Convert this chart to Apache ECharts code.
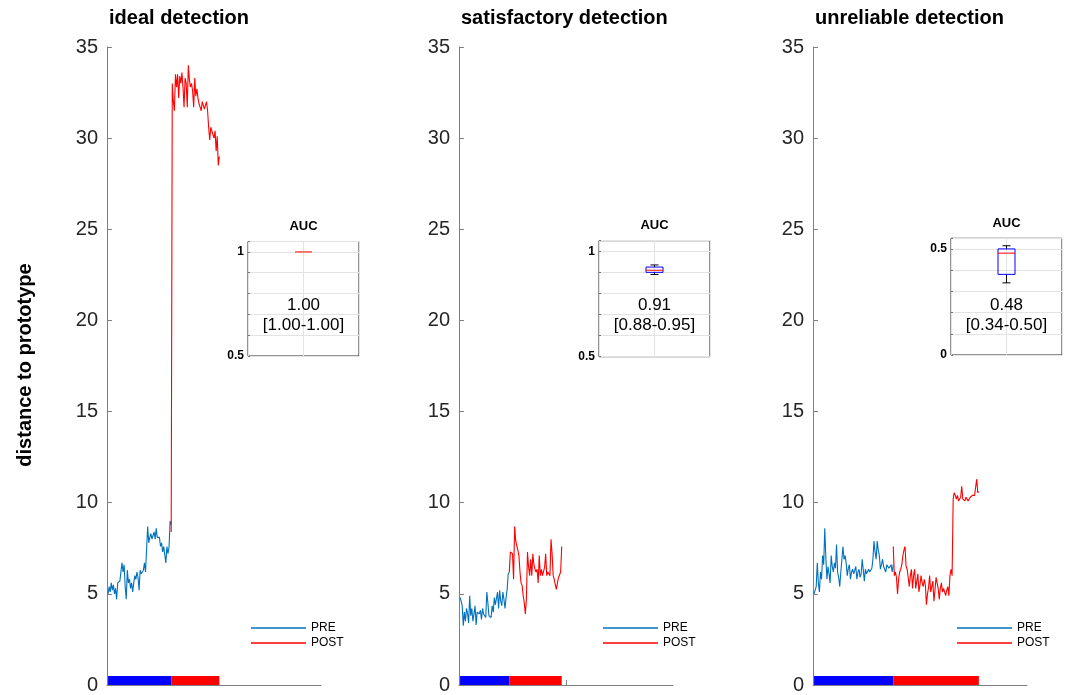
<!DOCTYPE html>
<html>
<head>
<meta charset="utf-8">
<script src="https://cdn.jsdelivr.net/npm/echarts@6/dist/echarts.min.js"></script>
<style>
html,body{margin:0;padding:0;background:#fff;}
#chart{width:1072px;height:695px;}
</style>
</head>
<body>
<div id="chart"></div>
<script>
// ---------------- DATA ----------------
const panelTitles = ['ideal detection', 'satisfactory detection', 'unreliable detection'];
const yAxisName = 'distance to prototype';
const legendNames = ['PRE', 'POST'];
const yTickMax = 35, yTickStep = 5;

const pre1 = [5.0, 5.4, 5.1, 5.6, 5.2, 5.5, 5.0, 5.3, 4.7, 5.6, 5.5, 5.7, 5.6, 6.7, 6.2, 6.6, 5.4, 4.7, 6.3, 5.6,
  5.8, 5.3, 5.6, 5.1, 5.6, 6.0, 5.8, 6.2, 5.9, 5.2, 6.3, 6.1, 6.0, 6.3, 6.7, 6.2, 6.3, 8.7, 7.8, 8.1,
  8.3, 8.0, 8.2, 8.4, 8.0, 8.6, 8.1, 8.0, 8.1, 7.6, 7.8, 7.3, 7.6, 7.5, 6.7, 7.6, 7.2, 7.6, 9.0, 8.8];
const post1 = [8.4, 33.0, 32.0, 31.5, 33.5, 32.8, 33.5, 32.2, 33.4, 33.0, 33.6, 32.8, 31.7, 33.3, 33.0, 31.7,
  34.0, 33.2, 32.8, 33.0, 32.6, 31.7, 33.3, 32.3, 32.7, 32.2, 31.9, 31.7, 31.5, 32.0, 31.8, 31.6, 31.8,
  32.0, 31.5, 30.6, 29.9, 30.6, 30.4, 30.3, 30.0, 30.4, 29.3, 30.1, 28.5, 29.0];

const pre2 = [4.8, 4.6, 4.35, 3.25, 4.0, 3.5, 4.2, 3.9, 3.4, 4.9, 3.8, 4.2, 3.5, 3.9, 4.35, 3.3, 4.0, 3.9, 3.9,
  4.1, 3.6, 4.2, 3.9, 3.9, 3.7, 5.1, 4.5, 3.8, 3.7, 3.7, 4.35, 4.0, 4.8, 4.4, 4.4, 5.1, 4.2, 5.2, 4.6, 4.35,
  5.1, 4.7, 4.2, 4.8, 5.25, 6.1, 6.2];
const post2 = [6.2, 7.3, 7.35, 7.2, 5.8, 8.7, 7.9, 8.0, 7.4, 7.1, 6.2, 5.6, 5.45, 4.9, 4.5, 3.9, 4.7, 7.3, 6.5,
  6.0, 6.9, 6.0, 7.2, 6.6, 6.35, 6.2, 6.35, 5.6, 7.1, 6.0, 6.35, 6.0, 5.9, 6.45, 7.2, 6.0, 6.2, 6.1, 6.0,
  8.0, 7.2, 6.0, 5.8, 5.5, 5.25, 5.6, 5.9, 6.0, 6.2, 7.6];

const pre3 = [5.0, 5.2, 5.4, 6.7, 5.6, 5.1, 6.2, 5.8, 7.1, 6.6, 8.6, 7.0, 5.8, 6.5, 6.1, 5.6, 7.1, 6.5, 6.2,
  6.7, 6.4, 7.7, 6.2, 5.9, 5.4, 6.2, 6.9, 7.6, 6.9, 7.1, 6.7, 6.0, 6.4, 6.6, 5.8, 6.2, 6.35, 6.1, 6.0, 6.5,
  5.8, 6.2, 6.35, 5.9, 6.1, 6.9, 6.3, 5.7, 6.35, 6.1, 6.0, 6.35, 6.2, 6.2, 6.4, 6.9, 7.9, 7.3, 6.9, 7.9,
  7.4, 7.1, 6.35, 6.6, 6.9, 6.5, 6.4, 6.2, 6.6, 6.7, 6.4, 6.5, 6.6, 6.2, 6.6];
const post3 = [7.6, 6.0, 6.2, 5.9, 5.0, 5.8, 6.2, 6.35, 6.6, 7.1, 7.4, 7.6, 6.5, 6.35, 5.9, 5.4, 6.0, 6.35,
  5.3, 6.0, 6.35, 5.3, 5.7, 6.1, 5.1, 5.5, 6.0, 5.6, 5.4, 5.8, 5.5, 4.4, 5.0, 5.35, 6.0, 5.1, 5.4, 5.7,
  4.6, 5.2, 5.9, 6.0, 5.3, 4.7, 5.3, 5.6, 5.1, 5.3, 5.4, 4.9, 5.2, 5.4, 4.9, 6.0, 6.35, 6.0, 10.2, 10.55,
  10.4, 10.2, 10.4, 10.1, 10.2, 10.3, 10.9, 10.2, 10.1, 10.1, 10.3, 10.2, 10.1, 10.2, 10.3, 10.3, 10.4,
  10.3, 10.4, 10.5, 11.3, 10.55, 10.6];

// AUC boxplot stats: [min, q1, median, q3, max]
const auc1 = [1.0, 1.0, 1.0, 1.0, 1.0];
const auc2 = [0.89, 0.90, 0.91, 0.925, 0.935];
const auc3 = [0.34, 0.38, 0.48, 0.50, 0.515];
const aucMedianText = ['1.00', '0.91', '0.48'];
const aucRangeText = ['[1.00-1.00]', '[0.88-0.95]', '[0.34-0.50]'];
const aucTitle = 'AUC';
const aucYRange = [[0.5, 1.05], [0.5, 1.05], [0, 0.55]];
const aucYLabels = [[0.5, 1], [0.5, 1], [0, 0.5]];

// ---------------- LAYOUT / STYLE ----------------
const FONT = '"Liberation Sans", Arial, Helvetica, sans-serif';
const axisLeft = [107, 459, 813];
const axisWidth = 214;
const gridTop = 47, gridBottom = 9;
const insetLeft = [248, 599, 951];
const insetTop = [241.5, 240.7, 238.3];
const insetW = 111;
const insetH = [114.5, 116, 116.7];
const PRE_COLOR = '#0072BD', POST_COLOR = '#FF0000';
const BAR_BLUE = '#0000FF', BAR_RED = '#FF0000';
const AXIS_COLOR = '#808080', TEXT_COLOR = '#262626';

const pres = [pre1, pre2, pre3];
const posts = [post1, post2, post3];
const aucs = [auc1, auc2, auc3];
const xStart = 1;

const grids = [], xAxes = [], yAxes = [], series = [], graphics = [], legends = [];

for (let i = 0; i < 3; i++) {
  grids.push({ left: axisLeft[i], width: axisWidth, top: gridTop, bottom: gridBottom, containLabel: false });
  xAxes.push({
    gridIndex: i, type: 'value', min: 0, max: 200, interval: 100,
    axisLine: { show: true, onZero: false, lineStyle: { color: AXIS_COLOR, width: 1 } },
    axisTick: { show: true, inside: true, length: 5, customValues: [100], lineStyle: { color: AXIS_COLOR } },
    axisLabel: { show: false }, splitLine: { show: false }
  });
  yAxes.push({
    gridIndex: i, type: 'value', min: 0, max: yTickMax, interval: yTickStep,
    axisLine: { show: true, onZero: false, lineStyle: { color: AXIS_COLOR, width: 1 } },
    axisTick: { show: true, inside: true, length: 5, lineStyle: { color: AXIS_COLOR } },
    axisLabel: { show: true, fontSize: 20, color: TEXT_COLOR, margin: 9, fontFamily: FONT },
    splitLine: { show: false }
  });
  const pre = pres[i], post = posts[i];
  const preEnd = xStart + pre.length - 1;
  const postEnd = preEnd + post.length - 1;
  series.push({
    name: 'PRE', type: 'line', xAxisIndex: i, yAxisIndex: i, symbol: 'none', animation: false,
    color: PRE_COLOR, lineStyle: { color: PRE_COLOR, width: 1.1 },
    data: pre.map((v, k) => [xStart + k, v]), z: 3
  });
  series.push({
    name: 'POST', type: 'line', xAxisIndex: i, yAxisIndex: i, symbol: 'none', animation: false,
    color: POST_COLOR, lineStyle: { color: POST_COLOR, width: 1.1 },
    data: post.map((v, k) => [preEnd + k, v]), z: 3
  });
  // condition bars along the x axis
  series.push({
    name: 'condition', type: 'custom', xAxisIndex: i, yAxisIndex: i, animation: false, silent: true,
    data: [[xStart, preEnd, 0], [preEnd, postEnd, 1]],
    renderItem: function (params, api) {
      const a = api.coord([api.value(0), 0]);
      const b = api.coord([api.value(1), 0]);
      return {
        type: 'rect',
        shape: { x: a[0], y: a[1] - 9, width: b[0] - a[0], height: 9 },
        style: { fill: api.value(2) === 0 ? BAR_BLUE : BAR_RED }
      };
    }, z: 4
  });
  legends.push({
    data: legendNames, orient: 'vertical', left: axisLeft[i] + 144, top: 621, padding: 0,
    icon: 'rect', itemWidth: 55, itemHeight: 1.3, itemGap: 1,
    textStyle: { fontSize: 12, lineHeight: 14, color: '#000', fontFamily: FONT },
    selectedMode: false
  });
  graphics.push({
    type: 'text', x: axisLeft[i] + 2, y: 18,
    style: { text: panelTitles[i], font: 'bold 20px ' + FONT, fill: '#000', textAlign: 'left', textVerticalAlign: 'middle' }
  });
}

// insets
for (let i = 0; i < 3; i++) {
  const gi = 3 + i;
  grids.push({
    left: insetLeft[i], top: insetTop[i], width: insetW, height: insetH[i],
    show: true, borderColor: '#262626', borderWidth: 1, backgroundColor: '#fff', z: 10
  });
  xAxes.push({
    gridIndex: gi, type: 'value', min: 0, max: 2, interval: 1,
    axisLine: { show: false }, axisTick: { show: false }, axisLabel: { show: false },
    splitLine: { show: true, lineStyle: { color: '#e3e3e3', width: 1 } }, z: 10
  });
  const labs = aucYLabels[i];
  yAxes.push({
    gridIndex: gi, type: 'value', min: aucYRange[i][0], max: aucYRange[i][1], interval: 0.1,
    axisLine: { show: false },
    axisTick: { show: true, inside: true, length: 2, lineStyle: { color: '#777' } },
    axisLabel: {
      show: true, fontSize: 12, fontWeight: 'bold', color: '#000', margin: 4, fontFamily: FONT,
      formatter: function (v) {
        for (const l of labs) { if (Math.abs(v - l) < 1e-6) return String(l); }
        return '';
      }
    },
    splitLine: { show: true, lineStyle: { color: '#e3e3e3', width: 1 } }, z: 10
  });
  series.push({
    name: 'AUC', type: 'custom', xAxisIndex: gi, yAxisIndex: gi, animation: false, silent: true, z: 11,
    data: [[1].concat(aucs[i])],
    renderItem: function (params, api) {
      const x = api.value(0);
      const pMin = api.coord([x, api.value(1)]);
      const pQ1 = api.coord([x, api.value(2)]);
      const pMed = api.coord([x, api.value(3)]);
      const pQ3 = api.coord([x, api.value(4)]);
      const pMax = api.coord([x, api.value(5)]);
      const cx = pMed[0], hw = 8.5, cw = 4;
      const black = { stroke: '#000', lineWidth: 1 };
      const children = [];
      if (pQ3[1] - pMax[1] > 0.5) {
        children.push({ type: 'line', shape: { x1: cx, y1: pQ3[1], x2: cx, y2: pMax[1] }, style: black });
        children.push({ type: 'line', shape: { x1: cx - cw, y1: pMax[1], x2: cx + cw, y2: pMax[1] }, style: black });
      }
      if (pMin[1] - pQ1[1] > 0.5) {
        children.push({ type: 'line', shape: { x1: cx, y1: pQ1[1], x2: cx, y2: pMin[1] }, style: black });
        children.push({ type: 'line', shape: { x1: cx - cw, y1: pMin[1], x2: cx + cw, y2: pMin[1] }, style: black });
      }
      if (pQ1[1] - pQ3[1] > 0.5) {
        children.push({ type: 'rect', shape: { x: cx - hw, y: pQ3[1], width: 2 * hw, height: pQ1[1] - pQ3[1] },
          style: { fill: 'none', stroke: '#0000FF', lineWidth: 1 } });
      }
      children.push({ type: 'line', shape: { x1: cx - hw, y1: pMed[1], x2: cx + hw, y2: pMed[1] },
        style: { stroke: '#FF0000', lineWidth: 1 } });
      return { type: 'group', children: children };
    }
  });
  const cx = insetLeft[i] + insetW / 2;
  graphics.push({
    type: 'text', x: cx, y: insetTop[i] - 15, z: 20,
    style: { text: aucTitle, font: 'bold 13px ' + FONT, fill: '#000', textAlign: 'center', textVerticalAlign: 'middle' }
  });
  graphics.push({
    type: 'text', x: cx, y: 305, z: 20,
    style: { text: aucMedianText[i], font: '17px ' + FONT, fill: '#000', textAlign: 'center', textVerticalAlign: 'middle' }
  });
  graphics.push({
    type: 'text', x: cx, y: 325, z: 20,
    style: { text: aucRangeText[i], font: '17px ' + FONT, fill: '#000', textAlign: 'center', textVerticalAlign: 'middle' }
  });
}

graphics.push({
  type: 'text', x: 25, y: 365, rotation: Math.PI / 2,
  style: { text: yAxisName, font: 'bold 20px ' + FONT, fill: '#000', textAlign: 'center', textVerticalAlign: 'middle' }
});

const chart = echarts.init(document.getElementById('chart'), null, { renderer: 'canvas' });
chart.setOption({
  backgroundColor: '#fff',
  animation: false,
  grid: grids, xAxis: xAxes, yAxis: yAxes, series: series,
  legend: legends, graphic: graphics
});
</script>
</body>
</html>
